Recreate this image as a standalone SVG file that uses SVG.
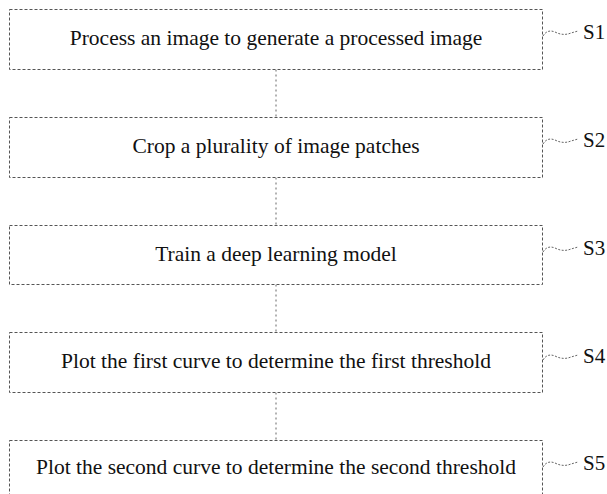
<svg xmlns="http://www.w3.org/2000/svg" width="607" height="494" viewBox="0 0 607 494">
  <style>
    .box { fill: #ffffff; stroke: #555555; stroke-width: 1; stroke-dasharray: 3 2; }
    .step { font-family: "Liberation Serif", "Times New Roman", "DejaVu Serif", serif; font-size: 21.5px; fill: #111111; text-anchor: middle; }
    .tag { font-family: "Liberation Serif", "Times New Roman", "DejaVu Serif", serif; font-size: 21px; fill: #111111; }
    .link { fill: none; stroke: #666666; stroke-width: 1; stroke-dasharray: 2 3; }
    .lead { fill: none; stroke: #666666; stroke-width: 1; stroke-dasharray: 2 1.5; }
  </style>
  <rect width="607" height="494" fill="#ffffff"/>

  <!-- connectors between steps -->
  <g id="connectors">
    <line class="link" x1="276" y1="69.5" x2="276" y2="117.5"/>
    <line class="link" x1="276" y1="177.5" x2="276" y2="225.5"/>
    <line class="link" x1="276" y1="284.5" x2="276" y2="332.5"/>
    <line class="link" x1="276" y1="392.5" x2="276" y2="440.5"/>
  </g>

  <g id="s1">
    <rect class="box" x="9.5" y="9.5" width="533" height="60"/>
    <text class="step" x="276" y="45">Process an image to generate a processed image</text>
    <path class="lead" d="M543,36 C546,31 550,30 555,32 C561,35 566,35 571,33 L578,31"/>
    <text class="tag" x="583" y="39">S1</text>
  </g>

  <g id="s2">
    <rect class="box" x="9.5" y="117.5" width="533" height="60"/>
    <text class="step" x="276" y="153">Crop a plurality of image patches</text>
    <path class="lead" d="M543,144 C546,139 550,138 555,140 C561,143 566,143 571,141 L578,139"/>
    <text class="tag" x="583" y="147">S2</text>
  </g>

  <g id="s3">
    <rect class="box" x="9.5" y="225.5" width="533" height="59"/>
    <text class="step" x="276" y="261">Train a deep learning model</text>
    <path class="lead" d="M543,252 C546,247 550,246 555,248 C561,251 566,251 571,249 L578,247"/>
    <text class="tag" x="583" y="255">S3</text>
  </g>

  <g id="s4">
    <rect class="box" x="9.5" y="332.5" width="533" height="60"/>
    <text class="step" x="276" y="368">Plot the first curve to determine the first threshold</text>
    <path class="lead" d="M543,360 C546,355 550,354 555,356 C561,359 566,359 571,357 L578,355"/>
    <text class="tag" x="583" y="363">S4</text>
  </g>

  <g id="s5">
    <rect class="box" x="9.5" y="440.5" width="533" height="60"/>
    <text class="step" x="276" y="474">Plot the second curve to determine the second threshold</text>
    <path class="lead" d="M543,467 C546,462 550,461 555,463 C561,466 566,466 571,464 L578,462"/>
    <text class="tag" x="583" y="470">S5</text>
  </g>
</svg>
